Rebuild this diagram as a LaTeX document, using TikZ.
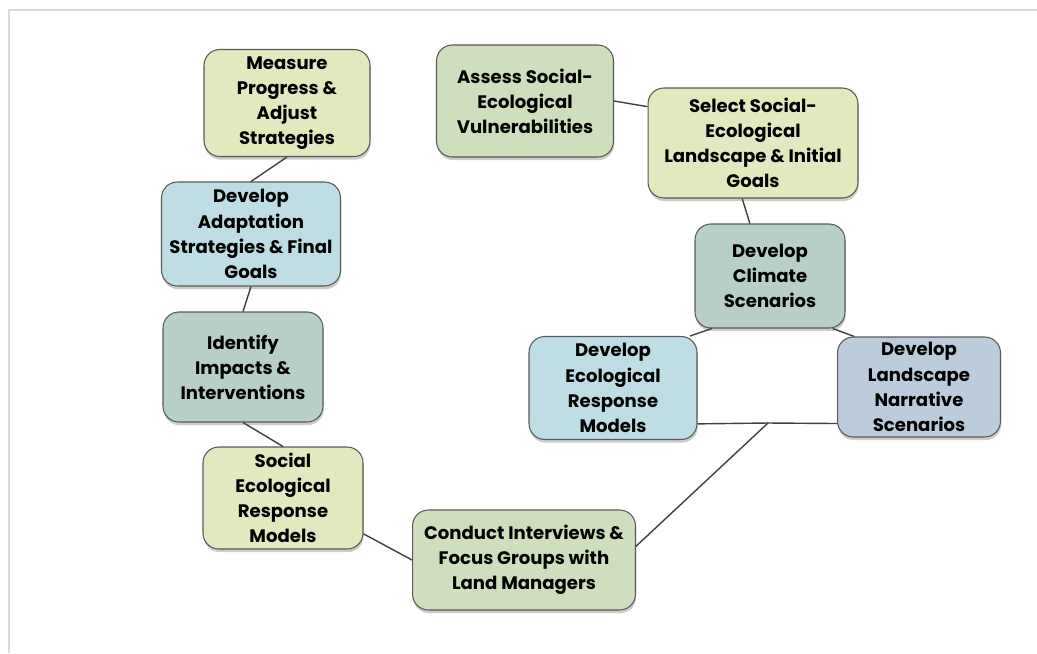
\documentclass[tikz,border=0pt]{standalone}
\usepackage{fontspec}
\setmainfont{Poppins}
\usetikzlibrary{shadows}
\definecolor{paleyellow}{RGB}{228,232,191}
\definecolor{palegreen}{RGB}{207,222,188}
\definecolor{paleblue}{RGB}{191,221,228}
\definecolor{paleteal}{RGB}{184,207,199}
\definecolor{paleslate}{RGB}{188,204,221}
\tikzset{
	stage/.style={draw=black!65, line width=0.6pt, rounded corners=9pt, align=center,
		font=\fontsize{10.3}{14.3}\selectfont\bfseries, inner sep=2pt,
		drop shadow={shadow xshift=0.4pt, shadow yshift=-1.8pt, opacity=0.4}},
	link/.style={draw=black!75, line width=0.8pt}
}
\begin{document}
\begin{tikzpicture}[x=0.02cm, y=-0.02cm]
			\useasboundingbox (0,0) rectangle (1037,653);
			\draw[black!15, line width=1.2pt] (9,653) -- (9,10) -- (1037,10);
			\node[stage, fill=paleyellow, minimum width=3.32cm, minimum height=2.14cm] (measure) at (287,103) {Measure\\Progress \&\\Adjust\\Strategies};
			\node[stage, fill=paleblue, minimum width=3.58cm, minimum height=2.08cm] (adapt) at (251,234) {Develop\\Adaptation\\Strategies \& Final\\Goals};
			\node[stage, fill=paleteal, minimum width=3.2cm, minimum height=2.2cm] (impacts) at (243,367) {Identify\\Impacts \&\\Interventions};
			\node[stage, fill=paleyellow, minimum width=3.2cm, minimum height=2.04cm] (social) at (283,498) {Social\\Ecological\\Response\\Models};
			\node[stage, fill=palegreen, minimum width=4.46cm, minimum height=2cm] (interviews) at (524,560) {Conduct Interviews \&\\Focus Groups with\\Land Managers};
			\node[stage, fill=palegreen, minimum width=3.54cm, minimum height=2.24cm] (assess) at (525,101) {Assess Social-\\Ecological\\Vulnerabilities};
			\node[stage, fill=paleyellow, minimum width=4.2cm, minimum height=2.2cm] (select) at (753,143) {Select Social-\\Ecological\\Landscape \& Initial\\Goals};
			\node[stage, fill=paleteal, minimum width=3cm, minimum height=2.08cm] (climate) at (770,276) {Develop\\Climate\\Scenarios};
			\node[stage, fill=paleblue, minimum width=3.36cm, minimum height=2.06cm] (ecoresp) at (613,388) {Develop\\Ecological\\Response\\Models};
			\node[stage, fill=paleslate, minimum width=3.26cm, minimum height=2cm] (narrative) at (919,387) {Develop\\Landscape\\Narrative\\Scenarios};
			\coordinate (join) at (768,423);
			\path[link]
			(measure.south) edge (adapt.north)
			(adapt.south) edge (impacts.north)
			(impacts.south) edge (social.north)
			(social.-24) edge (interviews.west)
			(assess.east) edge (select.161)
			(select.-101) edge (climate.111)
			(climate.-138) edge (ecoresp.34)
			(climate.-40) edge (narrative.142)
			(ecoresp.-23) edge (join)
			(join) edge (narrative.-156)
			(join) edge (interviews.7);
		\end{tikzpicture}
\end{document}
